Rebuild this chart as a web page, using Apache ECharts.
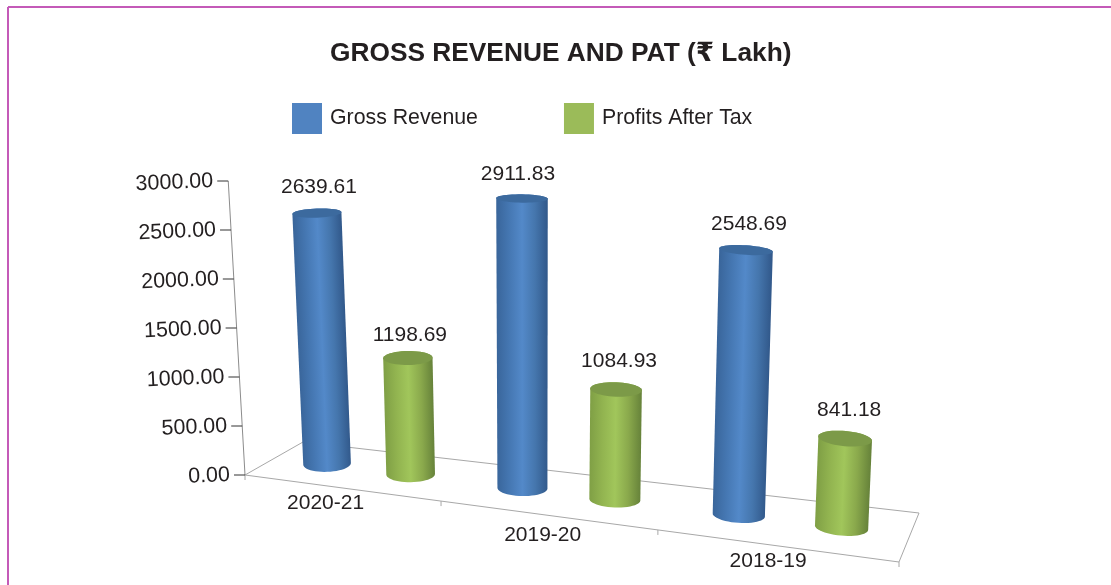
<!DOCTYPE html>
<html>
<head>
<meta charset="utf-8">
<style>
  html, body { margin: 0; padding: 0; background: #fff; }
  #chart { width: 1111px; height: 585px; }
</style>
</head>
<body>
<div id="chart"></div>
<script src="https://cdn.jsdelivr.net/npm/echarts@6/dist/echarts.min.js"></script>
<script>
const categories = ['2020-21', '2019-20', '2018-19']
const grossRevenue = [2639.61, 2911.83, 2548.69]
const profitsAfterTax = [1198.69, 1084.93, 841.18]
const yTicks = [0, 500, 1000, 1500, 2000, 2500, 3000]
const yTickLabels = ['0.00', '500.00', '1000.00', '1500.00', '2000.00', '2500.00', '3000.00']

const FONT = '"Liberation Sans", Arial, "DejaVu Sans", sans-serif'
const TEXT = '#231f20'

// floor corners of the tilted plot: front-left, front-right, back-right, back-left
const [p0, p1, p2, p3] = [[245, 475], [899, 562], [919, 513], [303, 442]]
const foreshorten = 0.168 // categories get wider to the right
const plumbX = 530 // uprights are vertical here, they lean away from it on both sides

const lerp = (m, n, f) => [m[0] + (n[0] - m[0]) * f, m[1] + (n[1] - m[1]) * f]

// u: 0..1 along the categories, v: 0..1 into the depth, t: 0..1 up the value axis
function project(u, v, t) {
  const f = u / (1 + foreshorten * (1 - u))
  const floor = lerp(lerp(p0, p1, f), lerp(p3, p2, f), v)
  const rise = (294 - 24 * v + 40 * u) * t
  const lean = (plumbX - floor[0]) * (floor[0] < plumbX ? 0.0002 : 0.00013)
  return [floor[0] - lean * rise, floor[1] - rise]
}

// pixel from the hidden cartesian axes -> plot fractions
function toPlot(params, api, catIdx, value, bandOffset) {
  const cs = params.coordSys
  const pt = api.coord([catIdx, value])
  const band = api.size([1, 0])[0]
  return {
    u: (pt[0] + (bandOffset || 0) * band - cs.x) / cs.width,
    t: (cs.y + cs.height - pt[1]) / cs.height,
  }
}

function hull(pts) {
  const s = pts.slice().sort((m, n) => m[0] - n[0] || m[1] - n[1])
  const cross = (o, m, n) => (m[0] - o[0]) * (n[1] - o[1]) - (m[1] - o[1]) * (n[0] - o[0])
  const lo = [], up = []
  for (const p of s) {
    while (lo.length > 1 && cross(lo[lo.length - 2], lo[lo.length - 1], p) <= 0) lo.pop()
    lo.push(p)
  }
  for (const p of s.slice().reverse()) {
    while (up.length > 1 && cross(up[up.length - 2], up[up.length - 1], p) <= 0) up.pop()
    up.push(p)
  }
  return lo.slice(0, -1).concat(up.slice(0, -1))
}

// cylinder cap as seen from above: flatter the higher it sits
function ring(u, center, t) {
  const rx = 23.5 + 3.5 * u + 0.8 * t
  const ry = t === 0 ? 8 : 9 - 5 * t
  const tilt = (-3 + 9 * u) * Math.PI / 180
  const pts = []
  for (let i = 0; i < 48; i++) {
    const ang = i / 48 * Math.PI * 2
    const ex = rx * Math.cos(ang), ey = ry * Math.sin(ang)
    pts.push([
      center[0] + ex * Math.cos(tilt) - ey * Math.sin(tilt),
      center[1] + ex * Math.sin(tilt) + ey * Math.cos(tilt),
    ])
  }
  return pts
}

function cylinder(colors, bandOffset, labelNudge) {
  return (params, api) => {
    const cat = api.value(0)
    const val = api.value(1)
    const { u, t } = toPlot(params, api, cat, val, bandOffset)
    const cb = project(u, 0.53, 0)
    const ct = project(u, 0.53, t)
    const base = ring(u, cb, 0)
    const top = ring(u, ct, t)
    const len = Math.hypot(ct[0] - cb[0], ct[1] - cb[1])
    const nx = (cb[1] - ct[1]) / len, ny = (ct[0] - cb[0]) / len
    const xs = top.map(p => p[0])
    const r = (Math.max(...xs) - Math.min(...xs)) / 2
    const fill = new echarts.graphic.LinearGradient(
      ct[0] - nx * r, ct[1] - ny * r, ct[0] + nx * r, ct[1] + ny * r,
      colors.side.map((color, i) => ({ offset: i / (colors.side.length - 1), color })),
      true
    )
    return {
      type: 'group',
      children: [
        { type: 'polygon', shape: { points: hull(base.concat(top)) }, style: { fill } },
        { type: 'polygon', shape: { points: top }, style: { fill: colors.top } },
        {
          type: 'text',
          style: {
            x: ct[0] + labelNudge[cat][0], y: ct[1] + labelNudge[cat][1], text: val.toFixed(2), font: '21px ' + FONT,
            fill: TEXT, align: 'center', verticalAlign: 'middle',
          },
        },
      ],
    }
  }
}

function renderFrame(params, api) {
  const line = (m, n, stroke) => ({
    type: 'line',
    shape: { x1: m[0], y1: m[1], x2: n[0], y2: n[1] },
    style: { stroke, lineWidth: 1 },
  })
  const grey = '#a8a8a8'
  const children = [
    line(p0, p3, grey), line(p3, p2, grey), line(p2, p1, grey), line(p1, p0, grey),
    line(project(0, 0, 0), project(0, 0, 1), '#8c8c8c'),
  ]
  categories.concat(['']).forEach((_, i) => {
    const pt = project(i / categories.length, 0, 0)
    children.push(line(pt, [pt[0], pt[1] + 5], grey))
  })
  return { type: 'group', children }
}

function renderYTick(params, api) {
  const { u, t } = toPlot(params, api, 0, api.value(0), -0.5)
  const pt = project(u, 0, t)
  return {
    type: 'group',
    children: [
      {
        type: 'line',
        shape: { x1: pt[0] - 11, y1: pt[1], x2: pt[0], y2: pt[1] },
        style: { stroke: '#333', lineWidth: 1 },
      },
      {
        type: 'text',
        x: pt[0] - 15,
        y: pt[1],
        rotation: 2.5 * Math.PI / 180,
        style: {
          x: 0, y: 0, text: yTickLabels[params.dataIndex], font: '21.5px ' + FONT,
          fill: TEXT, align: 'right', verticalAlign: 'middle',
        },
      },
    ],
  }
}

// hand offsets of the category labels from their band centre on the front edge
const categoryNudge = [[-15, 15], [-4, 20], [-7, 15.5]]
// hand offsets of the value labels from the cylinder top
const blueLabelNudge = [[2, -26], [-4, -24], [3, -26]]
const greenLabelNudge = [[2, -23], [3, -28], [4, -28]]

function renderCategory(params, api) {
  const i = api.value(0)
  const { u } = toPlot(params, api, i, 0, 0)
  const pt = project(u, 0, 0)
  return {
    type: 'text',
    style: {
      x: pt[0] + categoryNudge[i][0], y: pt[1] + categoryNudge[i][1], text: categories[i], font: '21px ' + FONT,
      fill: TEXT, align: 'center', verticalAlign: 'middle',
    },
  }
}

const blue = { side: ['#39659a', '#4577b2', '#5389c9', '#4576ad', '#31588a'], top: '#3c6a9e' }
const green = { side: ['#7f9f45', '#92b450', '#a1c65b', '#8aa94c', '#66823a'], top: '#7c9a48' }

const chart = echarts.init(document.getElementById('chart'))
chart.setOption({
  animation: false,
  backgroundColor: '#fff',
  title: {
    text: 'GROSS REVENUE AND PAT (₹ Lakh)',
    left: 330,
    top: 41,
    padding: 0,
    textStyle: { fontFamily: FONT, fontSize: 26.3, fontWeight: 'bold', color: TEXT },
  },
  legend: {
    data: ['Gross Revenue', 'Profits After Tax'],
    left: 292,
    top: 103,
    padding: 0,
    icon: 'rect',
    itemWidth: 30,
    itemHeight: 31,
    itemGap: 86,
    textStyle: { fontFamily: FONT, fontSize: 21.3, color: TEXT, padding: [0, 0, 0, 3] },
  },
  grid: { left: 100, right: 100, top: 100, bottom: 100 },
  xAxis: { type: 'category', data: categories, show: false },
  yAxis: { type: 'value', min: 0, max: 3000, interval: 500, show: false },
  graphic: [
    { type: 'line', shape: { x1: 8, y1: 7, x2: 1111, y2: 7 }, style: { stroke: '#c45ab8', lineWidth: 2 } },
    { type: 'line', shape: { x1: 8, y1: 7, x2: 8, y2: 585 }, style: { stroke: '#c45ab8', lineWidth: 2 } },
  ],
  series: [
    { name: 'frame', type: 'custom', renderItem: renderFrame, data: [0], silent: true, z: 1 },
    { name: 'yTicks', type: 'custom', renderItem: renderYTick, data: yTicks.map(v => [v]), silent: true, z: 2, encode: { y: 0 } },
    {
      name: 'categories', type: 'custom', renderItem: renderCategory,
      data: categories.map((_, i) => [i]), silent: true, z: 2, encode: { x: 0 },
    },
    {
      name: 'Gross Revenue', type: 'custom', renderItem: cylinder(blue, -0.22, blueLabelNudge),
      itemStyle: { color: '#5083c1' },
      data: grossRevenue.map((v, i) => [i, v]), z: 3, encode: { x: 0, y: 1 },
    },
    {
      name: 'Profits After Tax', type: 'custom', renderItem: cylinder(green, 0.22, greenLabelNudge),
      itemStyle: { color: '#9bbb59' },
      data: profitsAfterTax.map((v, i) => [i, v]), z: 3, encode: { x: 0, y: 1 },
    },
  ],
})
</script>
</body>
</html>
